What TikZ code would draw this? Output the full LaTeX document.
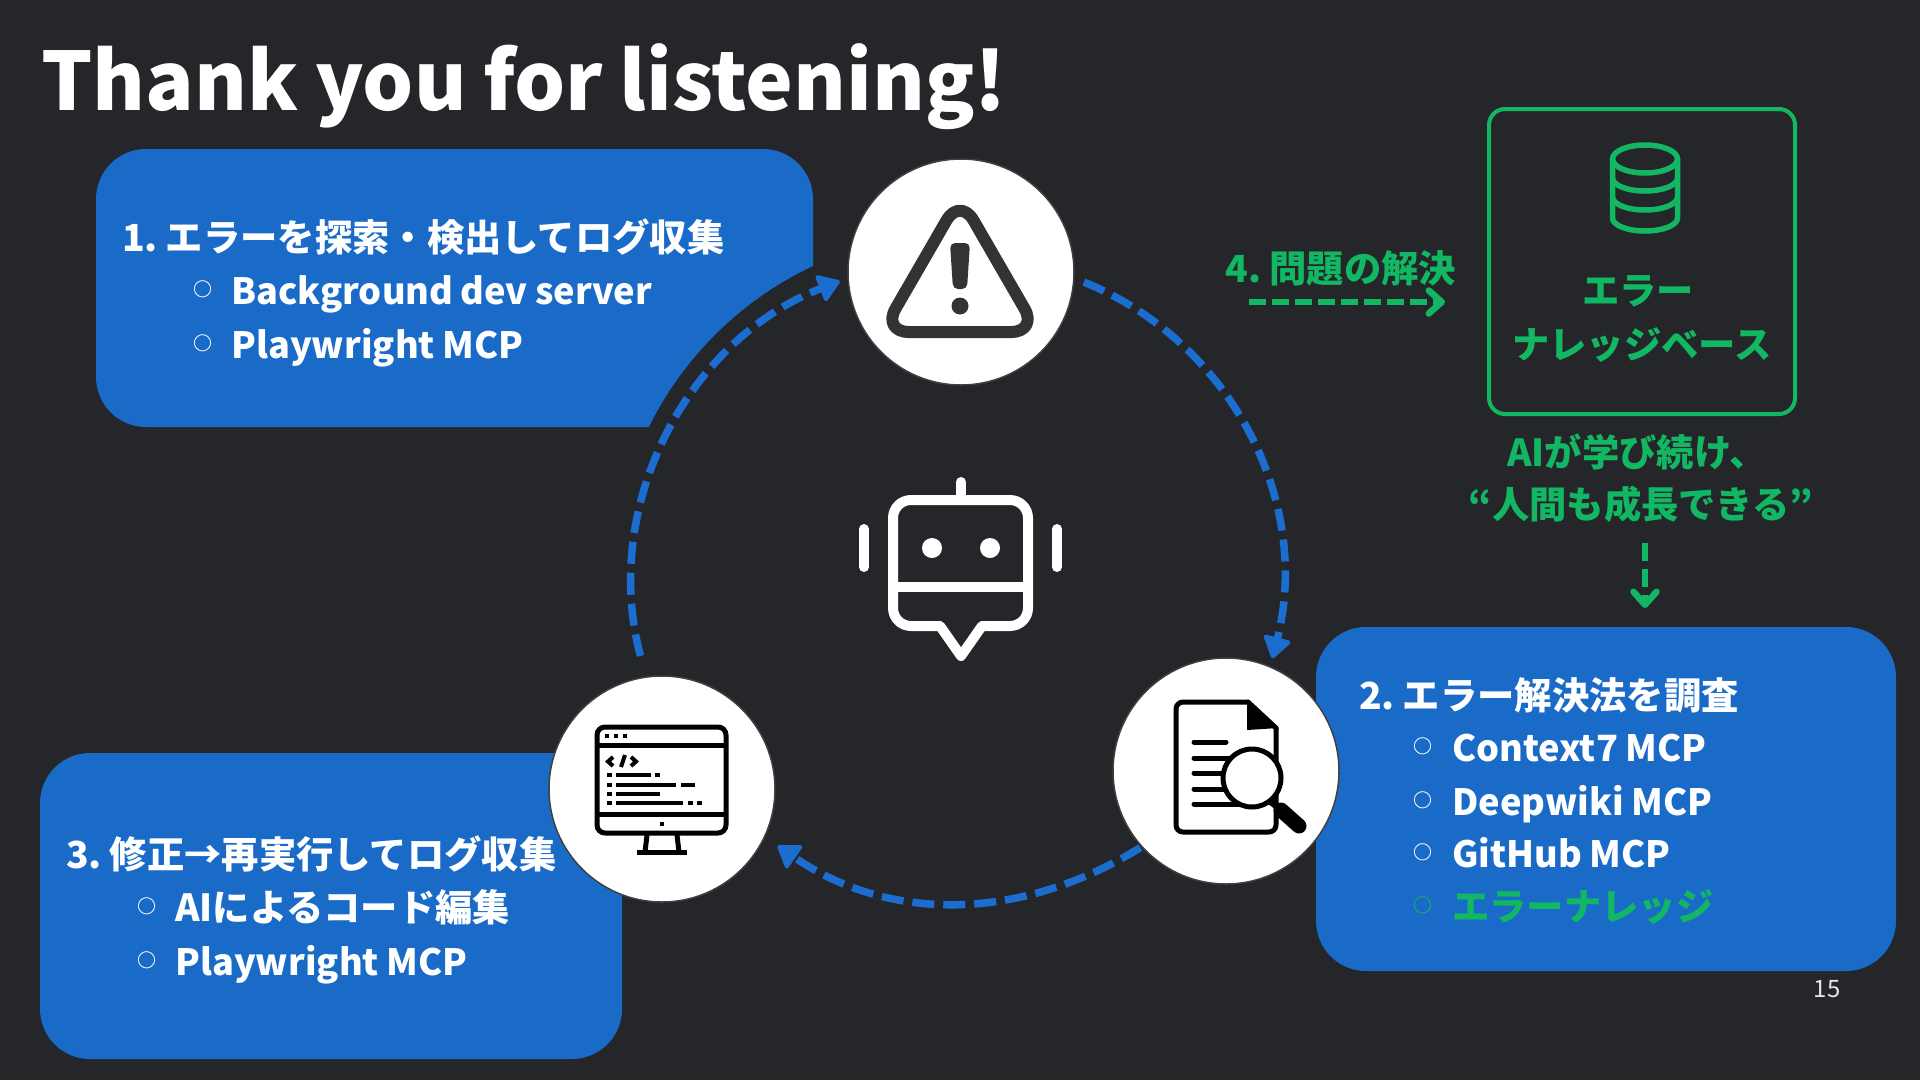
\documentclass[tikz,border=0pt]{standalone}
\usepackage{fontspec}
\setmainfont{Noto Sans CJK JP}[WordSpace=0.6]
\newfontfamily\latinfont{Noto Sans CJK JP}[WordSpace=0.9]
\usetikzlibrary{arrows.meta}
\definecolor{bgdark}{HTML}{25262A}
\definecolor{boxblue}{HTML}{1A6BC8}
\definecolor{arrowblue}{HTML}{1C6DD0}
\definecolor{kbgreen}{HTML}{12B764}
\definecolor{icondark}{HTML}{333333}
\tikzset{
  panel/.style={draw=none,fill=boxblue,rounded corners=50pt,inner sep=0pt,outer sep=0pt},
  iconnode/.style={circle,draw=black!75,line width=1.5pt,fill=white,minimum size=226pt,inner sep=0pt,outer sep=0pt},
  line/.style={anchor=base west,inner sep=0pt,text=white,font=\bfseries\fontsize{37.3}{44}\selectfont},
  latin/.style={line,font=\latinfont\bfseries\fontsize{36.2}{44}\selectfont},
  dot/.style={anchor=base,inner sep=0pt,text=white,font=\bfseries\fontsize{19}{24}\selectfont},
  kbline/.style={anchor=base,inner sep=0pt,text=kbgreen,font=\bfseries\fontsize{37.3}{44}\selectfont},
  cycle arrow/.style={draw=arrowblue,line width=7.5pt,dash pattern=on 22pt off 9pt,-{Triangle[round,line width=4pt,length=23pt,width=30pt]}},
  kb arrow/.style={draw=kbgreen,line width=6.5pt,dash pattern=on 17pt off 6pt,-{Straight Barb[length=13pt,width=23pt,round]}},
  glyph/.style={line width=5pt,line cap=round,line join=round}
}
\begin{document}
\begin{tikzpicture}[x=1pt,y=1pt]
  \fill[bgdark] (0,0) rectangle (1920,-1080);
  \useasboundingbox (0,0) rectangle (1920,-1080);

  \node[anchor=base west,inner sep=0pt,text=white,font=\latinfont\bfseries\fontsize{80.5}{92}\selectfont] (title) at (41,-110) {Thank you for listening!};

  \node[panel,minimum width=717pt,minimum height=278pt] (findbox) at (454.5,-288) {};
  \node[panel,minimum width=580pt,minimum height=344pt] (solvebox) at (1606,-799) {};
  \node[panel,minimum width=582pt,minimum height=306pt] (fixbox) at (331,-906) {};
  \node[circle,fill=bgdark,minimum size=693pt,inner sep=0pt] (hub) at (960,-580) {};

  % first panel
  \node[line] (find) at (122,-251) {1. エラーを探索・検出してログ収集};
  \node[dot] (finddota) at (203,-296) {○};
  \node[latin] (finda) at (231,-304) {Background dev server};
  \node[dot] (finddotb) at (203,-350) {○};
  \node[latin] (findb) at (231,-358) {Playwright MCP};

  % second panel
  \node[line] (solve) at (1359,-709) {2. エラー解決法を調査};
  \node[dot] (solvedota) at (1423,-753) {○};
  \node[latin] (solvea) at (1452,-761) {Context7 MCP};
  \node[dot] (solvedotb) at (1423,-807) {○};
  \node[latin] (solveb) at (1452,-815) {Deepwiki MCP};
  \node[dot] (solvedotc) at (1423,-859) {○};
  \node[latin] (solvec) at (1452,-867) {GitHub MCP};
  \node[dot,text=kbgreen] (solvedotd) at (1423,-912) {○};
  \node[line,text=kbgreen] (solved) at (1452,-920) {エラーナレッジ};

  % third panel
  \node[line] (fix) at (66,-868) {3. 修正→再実行してログ収集};
  \node[dot] (fixdota) at (147,-913) {○};
  \node[line] (fixa) at (175,-921) {AIによるコード編集};
  \node[dot] (fixdotb) at (147,-967) {○};
  \node[latin] (fixb) at (175,-975) {Playwright MCP};

  \node[iconnode] (warn) at (961,-272) {};
  \node[iconnode] (doc) at (1226,-771) {};
  \node[iconnode] (code) at (662,-789) {};

  \path
    (warn.-3) edge [cycle arrow,bend left=41,shorten <=11pt,shorten >=9pt] (doc.67)
    (doc.222) edge [cycle arrow,bend left=33,shorten <=2pt,shorten >=16pt] (code.-25)
    (code.98) edge [cycle arrow,bend left=42,shorten <=22pt,shorten >=9pt] (warn.183)
    ;

  % warning sign
  \draw[icondark,line width=12pt,rounded corners=27pt,line join=round] (960,-197) -- (1038,-332) -- (882,-332) -- cycle;
  \fill[icondark,rounded corners=5pt] (950,-243) -- (970,-243) -- (967,-289) -- (953,-289) -- cycle;
  \fill[icondark] (960,-306) circle (8.5pt);

  % robot
  \draw[white,line width=10pt,line join=round,rounded corners=18pt] (982,-626) -- (1028,-626) -- (1028,-500) -- (893,-500) -- (893,-626) -- (940,-626);
  \draw[white,line width=10pt,line join=round,line cap=round] (940,-626) -- (961,-656) -- (982,-626);
  \draw[white,line width=10pt] (893,-587) -- (1028,-587);
  \draw[white,line width=10pt,line cap=round] (961,-482) -- (961,-500);
  \draw[white,line width=10pt,line cap=round] (864,-529) -- (864,-567);
  \draw[white,line width=10pt,line cap=round] (1057,-529) -- (1057,-567);
  \foreach \eyex in {932,990}
    \fill[white] (\eyex,-548) circle (10pt);

  % document and lens
  \draw[black,glyph,rounded corners=7pt] (1248,-702) -- (1176,-702) -- (1176,-832) -- (1276,-832) -- (1276,-728);
  \draw[black,glyph] (1248,-702) -- (1276,-728);
  \fill[black] (1247,-700) -- (1278,-728) -- (1247,-730) -- cycle;
  \draw[black,glyph] (1194,-742) -- (1226,-742);
  \foreach \rowy in {758,773,789,804}
    \draw[black,glyph] (1194,-\rowy) -- (1240,-\rowy);
  \draw[black,line width=15pt,line cap=round] (1281,-810) -- (1299,-826);
  \draw[black,line width=6pt] (1268,-800) -- (1281,-810);
  \draw[black,line width=5pt,fill=white] (1252,-778) circle (29pt);

  % screen with code
  \draw[black,glyph,rounded corners=8pt] (597,-727) rectangle (726,-833);
  \draw[black,line width=5pt] (597,-745) -- (726,-745);
  \draw[black,line width=5pt] (597,-814) -- (726,-814);
  \draw[black,line width=5pt] (647,-835) -- (645,-852);
  \draw[black,line width=5pt] (677,-835) -- (679,-852);
  \draw[black,line width=5pt] (637,-852) -- (687,-852);
  \foreach \dotx in {607,616,625}
    \fill[black] (\dotx-2.2,-733.8) rectangle (\dotx+2.2,-738.2);
  \fill[black] (659.8,-821.8) rectangle (664.2,-826.2);
  \draw[black,line width=4pt] (613,-757) -- (608,-761.5) -- (613,-766);
  \draw[black,line width=4pt] (621,-767) -- (625,-755);
  \draw[black,line width=4pt] (631,-757) -- (636,-761.5) -- (631,-766);
  \foreach \rowy/\rowend in {775/651,785/676,794/660,803/683}{
    \fill[black] (606.5,-\rowy+2.4) rectangle (611.5,-\rowy-2.4);
    \fill[black] (616,-\rowy+2.4) rectangle (\rowend,-\rowy-2.4);
  }
  \fill[black] (654.5,-772.6) rectangle (659.5,-777.4);
  \fill[black] (681,-782.6) rectangle (695,-787.4);
  \fill[black] (687.5,-800.6) rectangle (692.5,-805.4);
  \fill[black] (696.5,-800.6) rectangle (701.5,-805.4);

  % knowledge base
  \node[draw=kbgreen,line width=4pt,rounded corners=16pt,inner sep=0pt,minimum width=306pt,minimum height=305pt] (kb) at (1642,-261.5) {};
  \draw[kbgreen,line width=5.5pt] (1645,-159) ellipse (32.5pt and 14pt);
  \draw[kbgreen,line width=5.5pt] (1612.5,-159) -- (1612.5,-218) arc[start angle=180,end angle=360,x radius=32.5pt,y radius=13pt] -- (1677.5,-159);
  \draw[kbgreen,line width=5.5pt] (1612.5,-178) arc[start angle=180,end angle=360,x radius=32.5pt,y radius=13pt];
  \draw[kbgreen,line width=5.5pt] (1612.5,-197) arc[start angle=180,end angle=360,x radius=32.5pt,y radius=13pt];

  \node[kbline] (kbtitle) at (1638,-304) {エラー};
  \node[kbline] (kbname) at (1642,-358) {ナレッジベース};
  \node[kbline] (learn) at (1637,-466) {AIが学び続け、};
  \node[kbline] (grow) at (1641,-518) {“人間も成長できる”};
  \node[kbline] (solvelabel) at (1341,-282) {4. 問題の解決};

  \coordinate (labelstart) at (1249,-302);
  \coordinate (labelend) at (1445,-302);
  \coordinate (growdrop) at (1645,-543);
  \draw[kb arrow] (labelstart) -- (labelend);
  \draw[kb arrow,dash pattern=on 18pt off 8pt,shorten >=19pt] (growdrop) -- (growdrop |- solvebox.north);

  \node[anchor=base,inner sep=0pt,text=white!90!black,font=\fontsize{24}{28}\selectfont] (pagenum) at (1827,-997) {15};
\end{tikzpicture}
\end{document}
